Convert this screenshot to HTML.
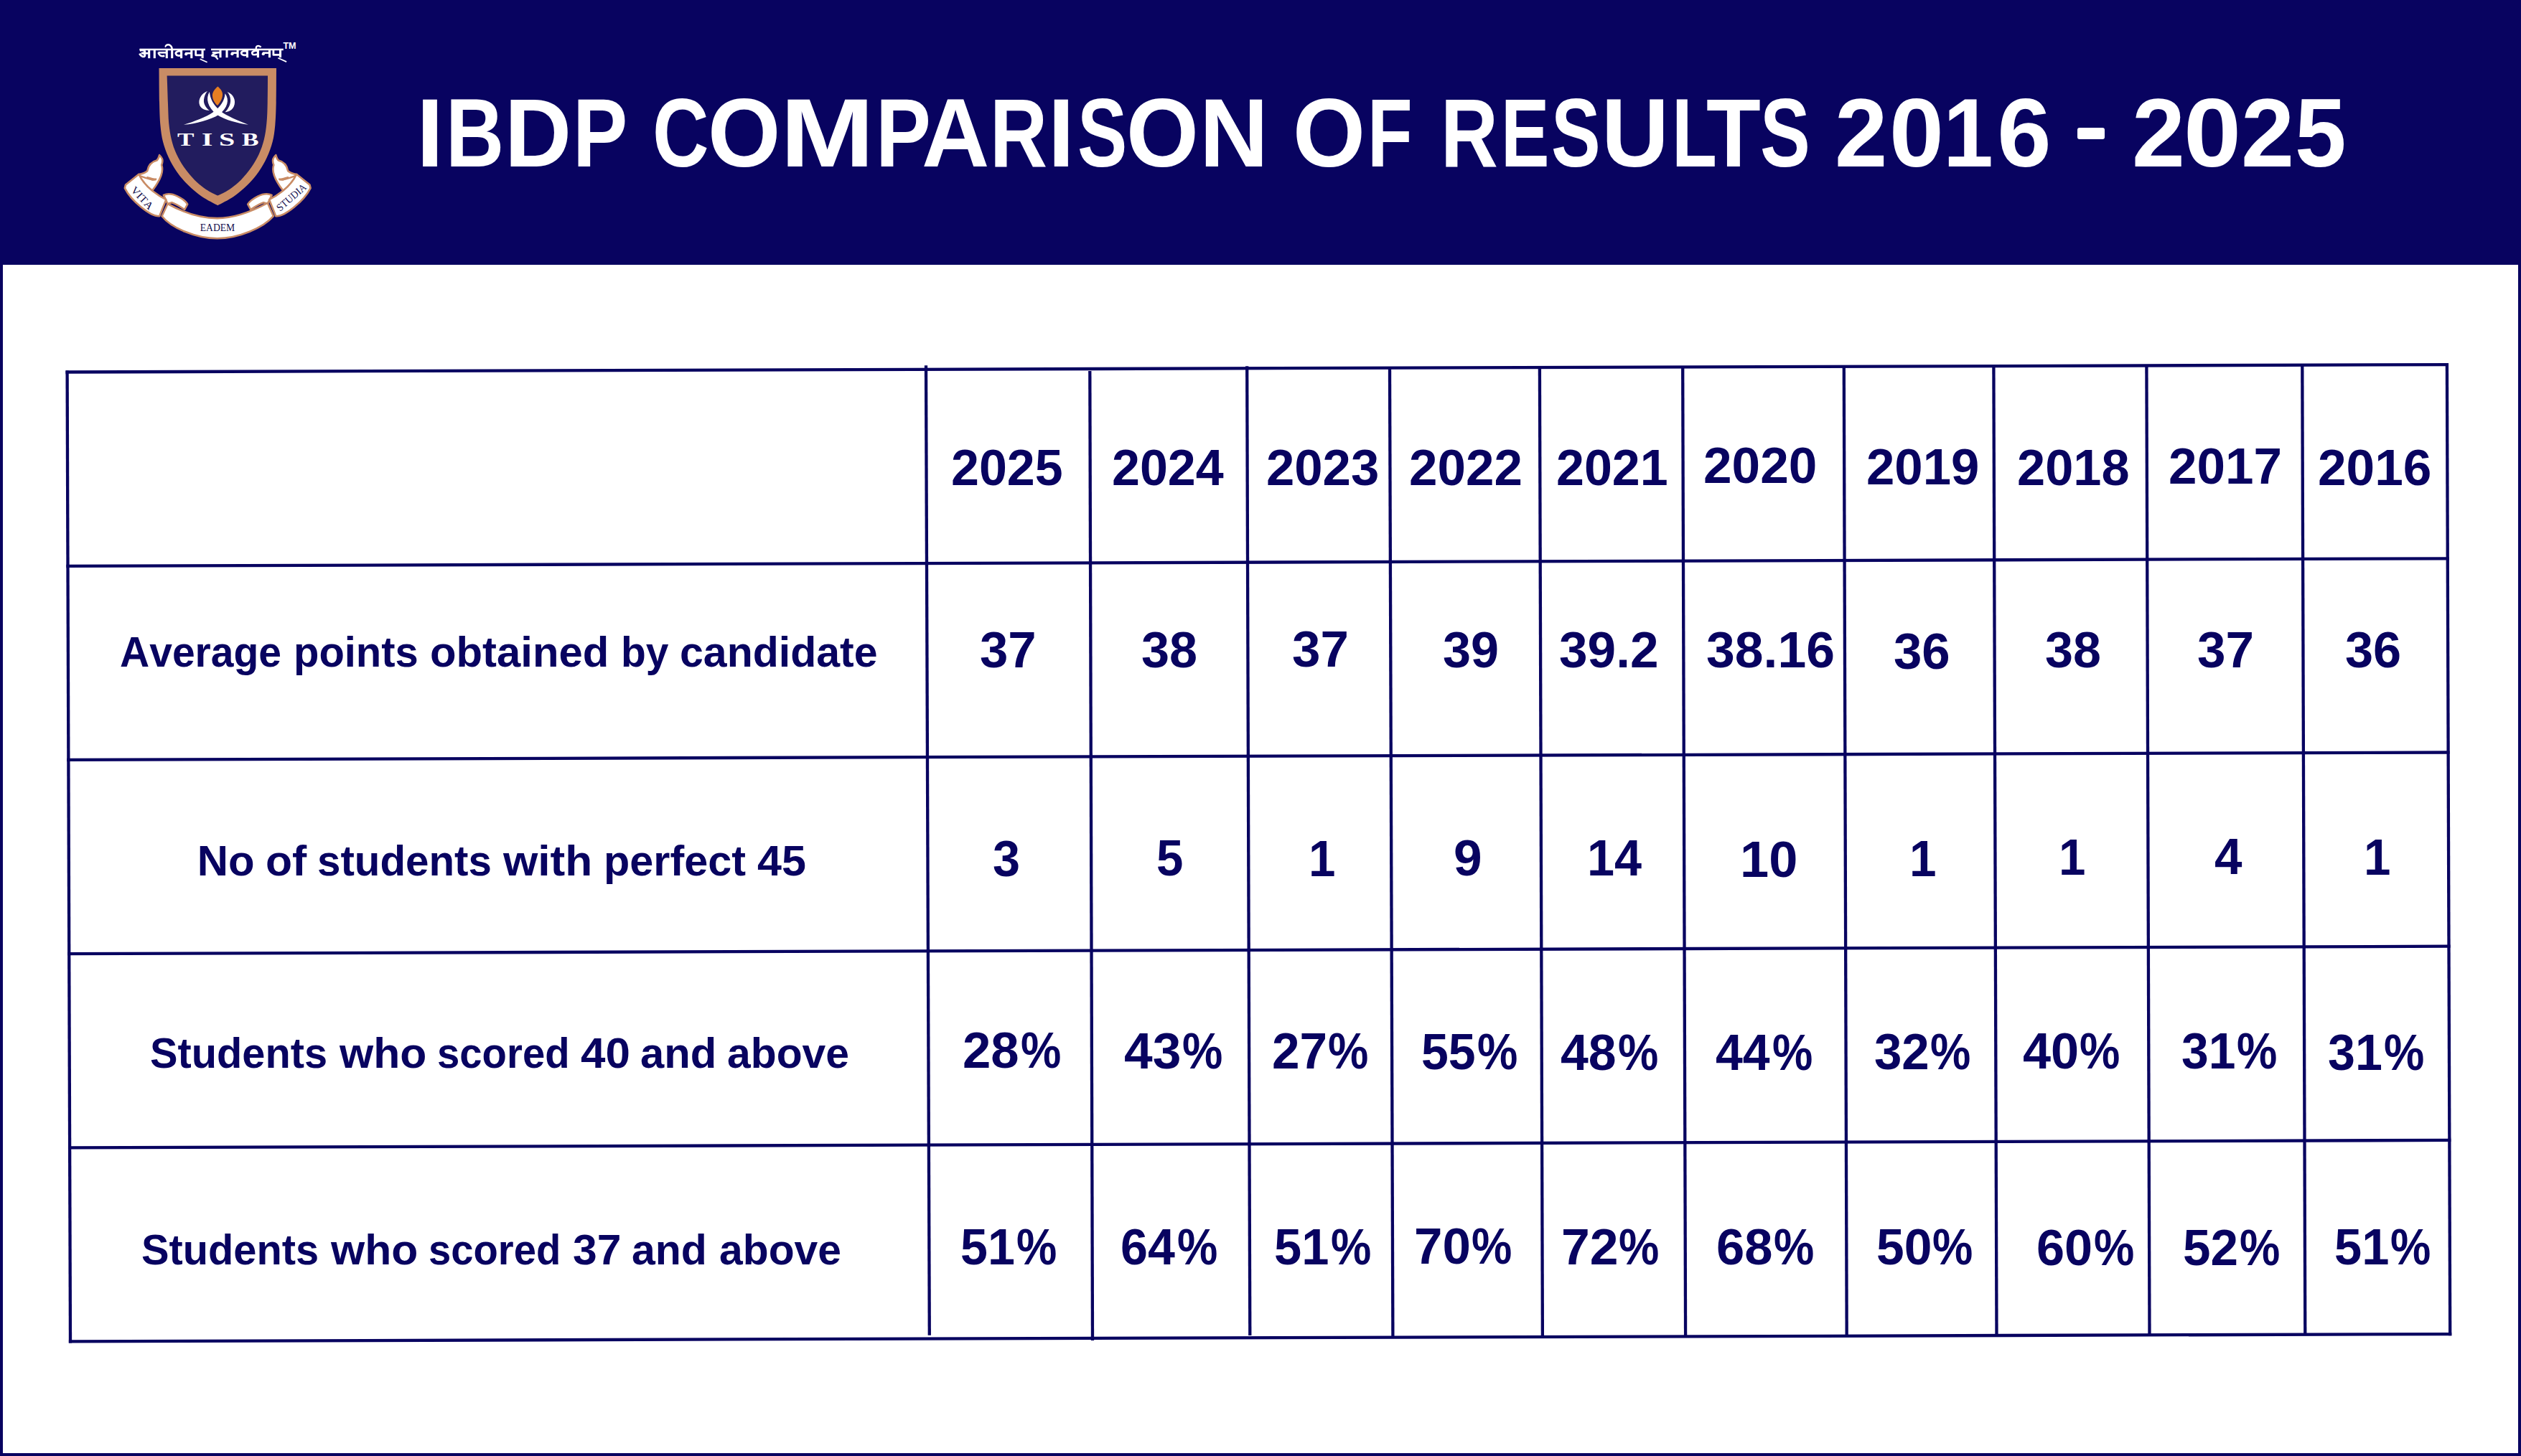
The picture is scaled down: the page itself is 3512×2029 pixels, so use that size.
<!DOCTYPE html>
<html><head><meta charset="utf-8"><title>IBDP Comparison of Results 2016 - 2025</title>
<style>
html,body{margin:0;padding:0;}
body{width:3512px;height:2029px;position:relative;overflow:hidden;background:#fff;font-family:"Liberation Sans",sans-serif;}
#hdr{position:absolute;left:0;top:0;width:3512px;height:369px;background:#080360;}
#frame{position:absolute;left:0;top:0;width:3504px;height:2025px;border:4px solid #080360;border-top:none;}
.t{position:absolute;white-space:nowrap;line-height:1;font-weight:bold;color:#080360;transform-origin:0 0;font-kerning:none;font-family:"Liberation Sans",sans-serif;}
.w{color:#fff;}
.s{font-family:"Liberation Serif",serif;}
.r{font-weight:normal;color:#15104f;}
</style></head><body>
<div id="frame"></div><div id="hdr"></div>
<svg width="3512" height="2029" viewBox="0 0 3512 2029" style="position:absolute;left:0;top:0"><g stroke="#080360" stroke-width="4.3" stroke-linecap="butt"><line x1="91.5" y1="518.5" x2="3411.0" y2="508.1"/><line x1="92.4" y1="788.9" x2="3411.9" y2="778.3"/><line x1="93.3" y1="1058.9" x2="3412.7" y2="1048.5"/><line x1="94.1" y1="1329.1" x2="3413.6" y2="1318.7"/><line x1="95.0" y1="1599.4" x2="3414.4" y2="1588.9"/><line x1="95.9" y1="1869.3" x2="3415.3" y2="1859.1"/><line x1="93.6" y1="516.4" x2="98.0" y2="1871.4"/><line x1="3408.9" y1="506.0" x2="3413.2" y2="1861.2"/><line x1="1290.0" y1="509.3" x2="1294.8" y2="1860.7"/><line x1="1518.3" y1="517.0" x2="1522.0" y2="1867.9"/><line x1="1737.2" y1="510.2" x2="1741.3" y2="1861.0"/><line x1="1936.0" y1="514.0" x2="1940.4" y2="1864.0"/><line x1="2144.9" y1="513.0" x2="2148.9" y2="1863.5"/><line x1="2344.2" y1="512.5" x2="2348.1" y2="1863.0"/><line x1="2568.8" y1="512.0" x2="2572.7" y2="1862.3"/><line x1="2777.4" y1="511.3" x2="2781.5" y2="1861.6"/><line x1="2990.4" y1="510.5" x2="2994.5" y2="1861.0"/><line x1="3207.3" y1="510.0" x2="3211.3" y2="1860.4"/></g><path d="M385.0,95.1 C384.9,103.0 385.0,129.5 384.7,142.7 C384.4,155.9 384.1,165.3 383.3,174.4 C382.4,183.6 381.6,190.1 379.7,197.5 C377.8,205.0 375.1,212.2 371.9,219.2 C368.6,226.1 364.9,232.9 360.3,239.4 C355.8,245.9 350.3,252.3 344.5,258.1 C338.6,263.9 332.3,269.3 325.4,274.0 C318.6,278.7 307.0,284.2 303.3,286.3 C299.7,284.2 288.1,278.7 281.3,274.0 C274.4,269.3 268.0,263.9 262.2,258.1 C256.4,252.3 250.9,245.9 246.4,239.4 C241.8,232.9 238.0,226.1 234.8,219.2 C231.6,212.2 228.9,205.0 227.0,197.5 C225.1,190.1 224.3,183.6 223.4,174.4 C222.6,165.3 222.3,155.9 222.0,142.7 C221.7,129.5 221.6,103.0 221.5,95.1 Z" fill="#C98C65"/><path d="M373.0,105.5 C373.0,111.7 373.0,131.7 372.7,142.7 C372.5,153.7 372.3,162.9 371.4,171.6 C370.6,180.2 369.6,187.4 367.8,194.6 C366.0,201.9 363.7,208.3 360.8,214.8 C357.8,221.3 354.1,227.6 349.9,233.6 C345.7,239.6 340.6,245.9 335.5,250.9 C330.5,256.0 325.0,260.3 319.6,263.9 C314.3,267.5 306.1,271.1 303.3,272.5 C300.6,271.1 292.4,267.5 287.0,263.9 C281.7,260.3 276.2,256.0 271.2,250.9 C266.1,245.9 261.0,239.6 256.7,233.6 C252.5,227.6 248.9,221.3 245.9,214.8 C242.9,208.3 240.6,201.9 238.9,194.6 C237.1,187.4 236.1,180.2 235.2,171.6 C234.4,162.9 234.4,153.7 233.9,142.7 C233.5,131.7 232.9,111.7 232.6,105.5 Z" fill="#221C5E"/><path d="M193.4,243.1 C198.0,242.3 202.6,240.5 205.2,238.2 C206.6,231.1 210.6,225.5 218.4,223.6 C220.7,221.9 221.4,218.4 222.1,216.1 C225.8,219.6 227.9,223.0 225.1,229.9 C228.1,238.0 225.6,248.3 211.8,266.1 C203.7,259.8 196.8,251.8 193.4,243.1 Z" fill="#fff" stroke="#C98C65" stroke-width="2.6" stroke-linejoin="round"/><path d="M413.1,243.1 C408.5,242.3 403.9,240.5 401.2,238.2 C399.8,231.1 395.8,225.5 388.0,223.6 C385.7,221.9 385.0,218.4 384.3,216.1 C380.6,219.6 378.6,223.0 381.3,229.9 C378.3,238.0 380.9,248.3 394.7,266.1 C402.7,259.8 409.6,251.8 413.1,243.1 Z" fill="#fff" stroke="#C98C65" stroke-width="2.6" stroke-linejoin="round"/><path d="M227.9,271.9 C233.6,269.0 240.5,270.2 247.4,273.6 C253.2,276.5 258.9,280.5 261.2,284.6 L257.2,292.0 C252.0,288.6 245.1,284.0 239.4,282.3 L233.6,284.0 Z" fill="#fff" stroke="#C98C65" stroke-width="2.6" stroke-linejoin="round"/><path d="M378.6,271.9 C372.8,269.0 365.9,270.2 359.0,273.6 C353.3,276.5 347.5,280.5 345.2,284.6 L349.2,292.0 C354.4,288.6 361.3,284.0 367.1,282.3 L372.8,284.0 Z" fill="#fff" stroke="#C98C65" stroke-width="2.6" stroke-linejoin="round"/><path d="M194.5,244.9 C201.4,247.4 209.5,250.8 216.6,250.4" fill="none" stroke="#C98C65" stroke-width="2.4" stroke-linecap="round"/><path d="M205.1,246.9 C209.5,248.3 214.1,249.5 217.5,249.5 C214.1,252.0 208.9,250.6 205.1,246.9 Z" fill="#080360" stroke="#C98C65" stroke-width="1.8" stroke-linejoin="round"/><path d="M411.9,244.9 C405.0,247.4 397.0,250.8 389.8,250.4" fill="none" stroke="#C98C65" stroke-width="2.4" stroke-linecap="round"/><path d="M401.3,246.9 C397.0,248.3 392.4,249.5 388.9,249.5 C392.4,252.0 397.5,250.6 401.3,246.9 Z" fill="#080360" stroke="#C98C65" stroke-width="1.8" stroke-linejoin="round"/><path d="M233.6,284.0 C252.0,294.3 277.3,304.1 302.6,304.1 C328.0,304.1 353.3,293.2 372.8,282.8 L380.9,301.2 C367.1,317.3 332.6,332.3 302.6,332.3 C272.7,332.3 238.2,317.3 225.6,301.2 Z" fill="#fff" stroke="#C98C65" stroke-width="2.6" stroke-linejoin="round"/><path d="M175.0,257.5 L193.4,242.8 C199.1,255.2 211.8,267.9 231.3,278.2 L222.1,301.2 C210.6,302.4 183.0,280.5 173.8,262.1 Z" fill="#fff" stroke="#C98C65" stroke-width="2.6" stroke-linejoin="round"/><path d="M431.5,257.5 L413.1,242.8 C407.3,255.2 394.7,267.9 375.1,278.2 L384.3,301.2 C395.8,302.4 423.4,280.5 432.6,262.1 Z" fill="#fff" stroke="#C98C65" stroke-width="2.6" stroke-linejoin="round"/><path d="M303.5,120.5 C307.8,124.4 310.3,128.0 310.0,132.4 C309.6,138.1 306.4,143.2 302.8,147.1 C298.4,142.5 295.9,138.1 295.9,132.4 C296.1,128.0 299.1,124.1 303.5,120.5 Z" fill="#E67E22"/><path d="M291.9,128.0 C286.2,137.4 289.0,148.9 302.0,159.8 C314.3,167.7 332.3,172.0 346.0,173.8 C330.9,167.7 316.5,161.9 307.1,154.7 C297.0,146.1 292.7,137.4 291.9,128.0 Z" fill="#fff"/><path d="M313.6,130.2 C320.1,138.9 317.2,150.4 304.9,159.8 C293.4,167.0 272.5,172.8 255.9,173.8 C271.0,169.1 286.2,163.4 297.0,156.2 C307.1,148.9 312.9,140.3 313.6,130.2 Z" fill="#fff"/><path d="M289.0,127.0 C280.4,130.2 275.3,138.9 278.2,146.8 C280.4,151.8 286.2,154.0 291.9,154.0 C286.9,150.4 283.3,144.6 284.0,138.9 C284.4,134.5 286.2,130.2 289.0,127.0 Z" fill="#fff"/><path d="M316.5,128.0 C325.1,130.9 329.4,140.3 325.8,148.2 C323.7,153.3 318.6,155.8 313.6,156.2 C317.9,151.8 321.5,145.3 321.1,138.9 C320.8,134.5 319.3,130.9 316.5,128.0 Z" fill="#fff"/></svg>
<svg width="3512" height="400" viewBox="0 0 3512 400" style="position:absolute;left:0;top:0" fill="none" stroke="#fff" stroke-linecap="butt" stroke-linejoin="round"><path d="M194.4,69.0 L286.0,69.0" stroke-width="2.6" fill="none"/><path d="M207.7,69.0 L207.7,81.2" stroke-width="3.1" fill="none"/><path d="M215.3,69.0 L215.3,81.2" stroke-width="3.1" fill="none"/><path d="M232.3,69.0 L232.3,81.2" stroke-width="3.1" fill="none"/><path d="M239.7,69.0 L239.7,81.2" stroke-width="3.1" fill="none"/><path d="M252.6,69.0 L252.6,81.2" stroke-width="3.1" fill="none"/><path d="M266.8,69.0 L266.8,81.2" stroke-width="3.1" fill="none"/><path d="M282.1,69.0 L282.1,81.2" stroke-width="3.1" fill="none"/><path d="M194.8,70.3 C198.7,69.4 202.7,70.3 201.8,72.5 C200.9,74.2 198.7,74.2 197.9,74.2 C200.5,74.2 202.7,75.5 201.8,77.7 C200.5,79.9 196.5,79.0 194.4,74.6" stroke-width="2.8" fill="none"/><path d="M201.8,74.2 L207.7,74.2" stroke-width="2.6" fill="none"/><path d="M220.5,73.3 L232.3,73.3" stroke-width="2.6" fill="none"/><path d="M220.5,73.3 C221.4,76.8 224.0,79.4 229.3,77.7" stroke-width="2.6" fill="none"/><path d="M239.7,69.0 C239.7,63.7 235.4,61.1 231.9,62.9 C230.6,63.7 230.6,65.0 231.0,65.5" stroke-width="2.4" fill="none"/><path d="M252.6,71.6 C248.0,70.3 244.1,72.5 245.0,75.1 C245.8,77.7 249.8,78.1 252.6,76.8" stroke-width="2.8" fill="none"/><path d="M258.1,74.2 L266.8,74.2" stroke-width="2.6" fill="none"/><circle cx="259.2" cy="75.5" r="2.1" fill="#fff" stroke="none"/><path d="M272.7,69.4 L272.7,76.8 L282.1,76.8" stroke-width="2.8" fill="none"/><path d="M278.6,82.3 L288.6,86.8" stroke-width="1.8" fill="none"/><path d="M294.1,69.0 L394.8,69.0" stroke-width="2.5" fill="none"/><path d="M307.0,69.0 L307.0,80.2" stroke-width="3.1" fill="none"/><path d="M316.0,69.0 L316.0,80.2" stroke-width="3.1" fill="none"/><path d="M331.1,69.0 L331.1,80.2" stroke-width="3.1" fill="none"/><path d="M344.4,69.0 L344.4,80.2" stroke-width="3.1" fill="none"/><path d="M359.4,69.0 L359.4,80.2" stroke-width="3.1" fill="none"/><path d="M375.5,69.0 L375.5,80.2" stroke-width="3.1" fill="none"/><path d="M390.5,69.0 L390.5,80.2" stroke-width="3.1" fill="none"/><path d="M295.7,73.2 L307.0,73.2" stroke-width="2.6" fill="none"/><path d="M302.7,73.2 C298.4,75.3 295.7,76.4 295.4,77.5 L302.7,78.6" stroke-width="2.6" fill="none"/><path d="M300.0,78.6 L303.7,82.8" stroke-width="2.2" fill="none"/><path d="M322.5,73.7 L331.1,73.7" stroke-width="2.6" fill="none"/><circle cx="323.4" cy="75.2" r="2.1" fill="#fff" stroke="none"/><path d="M344.4,71.6 C339.6,70.0 335.3,72.1 336.4,74.8 C337.5,77.0 341.2,77.5 344.4,76.2" stroke-width="2.8" fill="none"/><path d="M356.8,68.4 C356.2,64.6 358.9,62.0 363.7,65.7" stroke-width="2.2" fill="none"/><path d="M359.4,71.1 C354.6,70.0 350.3,72.1 351.4,74.8 C352.5,77.0 356.2,76.4 359.4,75.3" stroke-width="2.6" fill="none"/><path d="M365.9,73.7 L375.5,73.7" stroke-width="2.6" fill="none"/><circle cx="366.8" cy="75.2" r="2.1" fill="#fff" stroke="none"/><path d="M380.9,69.0 L380.9,76.4 L390.5,76.4" stroke-width="2.8" fill="none"/><path d="M387.3,80.7 L399.1,86.1" stroke-width="1.8" fill="none"/></svg>
<div class="t" style="left:1325.37px;top:617.00px;font-size:70.9px;transform:scaleX(0.9876);">2025</div>
<div class="t" style="left:1548.97px;top:617.00px;font-size:70.9px;transform:scaleX(0.9872);">2024</div>
<div class="t" style="left:1763.75px;top:617.00px;font-size:70.9px;transform:scaleX(0.9967);">2023</div>
<div class="t" style="left:1963.34px;top:617.00px;font-size:70.9px;transform:scaleX(1.0011);">2022</div>
<div class="t" style="left:2167.87px;top:617.00px;font-size:70.9px;transform:scaleX(0.9870);">2021</div>
<div class="t" style="left:2373.33px;top:614.00px;font-size:70.9px;transform:scaleX(1.0036);">2020</div>
<div class="t" style="left:2599.75px;top:616.00px;font-size:70.9px;transform:scaleX(0.9985);">2019</div>
<div class="t" style="left:2809.66px;top:617.00px;font-size:70.9px;transform:scaleX(0.9936);">2018</div>
<div class="t" style="left:3020.74px;top:615.00px;font-size:70.9px;transform:scaleX(1.0023);">2017</div>
<div class="t" style="left:3228.63px;top:617.00px;font-size:70.9px;transform:scaleX(1.0046);">2016</div>
<div class="t" style="left:1364.88px;top:871.00px;font-size:70.9px;transform:scaleX(0.9984);">37</div>
<div class="t" style="left:1590.29px;top:871.00px;font-size:70.9px;transform:scaleX(0.9899);">38</div>
<div class="t" style="left:1799.87px;top:870.00px;font-size:70.9px;transform:scaleX(0.9997);">37</div>
<div class="t" style="left:2009.79px;top:871.00px;font-size:70.9px;transform:scaleX(0.9892);">39</div>
<div class="t" style="left:2171.77px;top:871.00px;font-size:70.9px;transform:scaleX(1.0043);">39.2</div>
<div class="t" style="left:2376.76px;top:871.00px;font-size:70.9px;transform:scaleX(1.0090);">38.16</div>
<div class="t" style="left:2638.18px;top:873.00px;font-size:70.9px;transform:scaleX(0.9977);">36</div>
<div class="t" style="left:2849.19px;top:871.00px;font-size:70.9px;transform:scaleX(0.9886);">38</div>
<div class="t" style="left:3061.07px;top:871.00px;font-size:70.9px;transform:scaleX(1.0024);">37</div>
<div class="t" style="left:3267.39px;top:871.00px;font-size:70.9px;transform:scaleX(0.9910);">36</div>
<div class="t" style="left:1383.03px;top:1162.00px;font-size:70.9px;transform:scaleX(0.9648);">3</div>
<div class="t" style="left:1610.73px;top:1161.00px;font-size:70.9px;transform:scaleX(0.9496);">5</div>
<div class="t" style="left:1822.79px;top:1162.00px;font-size:70.9px;transform:scaleX(0.9500);">1</div>
<div class="t" style="left:2024.73px;top:1161.00px;font-size:70.9px;transform:scaleX(1.0046);">9</div>
<div class="t" style="left:2211.09px;top:1161.00px;font-size:70.9px;transform:scaleX(0.9647);">14</div>
<div class="t" style="left:2423.55px;top:1163.00px;font-size:70.9px;transform:scaleX(1.0183);">10</div>
<div class="t" style="left:2660.35px;top:1162.00px;font-size:70.9px;transform:scaleX(0.9517);">1</div>
<div class="t" style="left:2868.49px;top:1160.00px;font-size:70.9px;transform:scaleX(0.9500);">1</div>
<div class="t" style="left:3084.85px;top:1159.00px;font-size:70.9px;transform:scaleX(0.9769);">4</div>
<div class="t" style="left:3292.59px;top:1160.00px;font-size:70.9px;transform:scaleX(0.9500);">1</div>
<div class="t" style="left:1341.35px;top:1429.00px;font-size:70.9px;transform:scaleX(0.9970);">28</div>
<div class="t" style="left:1421.72px;top:1429.00px;font-size:70.9px;transform:scaleX(0.8938);">%</div>
<div class="t" style="left:1565.82px;top:1430.00px;font-size:70.9px;transform:scaleX(1.0063);">43</div>
<div class="t" style="left:1646.52px;top:1430.00px;font-size:70.9px;transform:scaleX(0.8938);">%</div>
<div class="t" style="left:1772.10px;top:1430.00px;font-size:70.9px;transform:scaleX(0.9770);">27</div>
<div class="t" style="left:1850.02px;top:1430.00px;font-size:70.9px;transform:scaleX(0.8938);">%</div>
<div class="t" style="left:1980.41px;top:1431.00px;font-size:70.9px;transform:scaleX(0.9597);">55</div>
<div class="t" style="left:2058.12px;top:1431.00px;font-size:70.9px;transform:scaleX(0.8938);">%</div>
<div class="t" style="left:2174.14px;top:1432.00px;font-size:70.9px;transform:scaleX(0.9840);">48</div>
<div class="t" style="left:2253.52px;top:1432.00px;font-size:70.9px;transform:scaleX(0.8938);">%</div>
<div class="t" style="left:2390.27px;top:1432.00px;font-size:70.9px;transform:scaleX(0.9586);">44</div>
<div class="t" style="left:2469.42px;top:1432.00px;font-size:70.9px;transform:scaleX(0.8938);">%</div>
<div class="t" style="left:2611.12px;top:1431.00px;font-size:70.9px;transform:scaleX(0.9732);">32</div>
<div class="t" style="left:2689.02px;top:1431.00px;font-size:70.9px;transform:scaleX(0.8938);">%</div>
<div class="t" style="left:2818.24px;top:1430.00px;font-size:70.9px;transform:scaleX(0.9909);">40</div>
<div class="t" style="left:2897.42px;top:1430.00px;font-size:70.9px;transform:scaleX(0.8938);">%</div>
<div class="t" style="left:3038.64px;top:1430.00px;font-size:70.9px;transform:scaleX(0.9567);">31</div>
<div class="t" style="left:3116.12px;top:1430.00px;font-size:70.9px;transform:scaleX(0.8938);">%</div>
<div class="t" style="left:3243.43px;top:1432.00px;font-size:70.9px;transform:scaleX(0.9620);">31</div>
<div class="t" style="left:3321.32px;top:1432.00px;font-size:70.9px;transform:scaleX(0.8938);">%</div>
<div class="t" style="left:1338.40px;top:1703.00px;font-size:70.9px;transform:scaleX(0.9624);">51</div>
<div class="t" style="left:1416.32px;top:1703.00px;font-size:70.9px;transform:scaleX(0.8938);">%</div>
<div class="t" style="left:1561.01px;top:1703.00px;font-size:70.9px;transform:scaleX(0.9607);">64</div>
<div class="t" style="left:1640.32px;top:1703.00px;font-size:70.9px;transform:scaleX(0.8938);">%</div>
<div class="t" style="left:1775.49px;top:1703.00px;font-size:70.9px;transform:scaleX(0.9691);">51</div>
<div class="t" style="left:1853.92px;top:1703.00px;font-size:70.9px;transform:scaleX(0.8938);">%</div>
<div class="t" style="left:1970.45px;top:1702.00px;font-size:70.9px;transform:scaleX(0.9999);">70</div>
<div class="t" style="left:2050.32px;top:1702.00px;font-size:70.9px;transform:scaleX(0.8938);">%</div>
<div class="t" style="left:2174.73px;top:1703.00px;font-size:70.9px;transform:scaleX(1.0085);">72</div>
<div class="t" style="left:2255.32px;top:1703.00px;font-size:70.9px;transform:scaleX(0.8938);">%</div>
<div class="t" style="left:2391.22px;top:1703.00px;font-size:70.9px;transform:scaleX(0.9948);">68</div>
<div class="t" style="left:2471.42px;top:1703.00px;font-size:70.9px;transform:scaleX(0.8938);">%</div>
<div class="t" style="left:2613.96px;top:1703.00px;font-size:70.9px;transform:scaleX(0.9814);">50</div>
<div class="t" style="left:2692.42px;top:1703.00px;font-size:70.9px;transform:scaleX(0.8938);">%</div>
<div class="t" style="left:2837.33px;top:1704.00px;font-size:70.9px;transform:scaleX(0.9910);">60</div>
<div class="t" style="left:2916.52px;top:1704.00px;font-size:70.9px;transform:scaleX(0.8938);">%</div>
<div class="t" style="left:3041.37px;top:1704.00px;font-size:70.9px;transform:scaleX(0.9764);">52</div>
<div class="t" style="left:3119.52px;top:1704.00px;font-size:70.9px;transform:scaleX(0.8938);">%</div>
<div class="t" style="left:3251.89px;top:1703.00px;font-size:70.9px;transform:scaleX(0.9691);">51</div>
<div class="t" style="left:3330.32px;top:1703.00px;font-size:70.9px;transform:scaleX(0.8938);">%</div>
<div class="t" style="left:166.98px;top:879.00px;font-size:59.9px;transform:scaleX(0.9520);">Average</div>
<div class="t" style="left:409.48px;top:879.00px;font-size:59.9px;transform:scaleX(0.9673);">points</div>
<div class="t" style="left:599.26px;top:879.00px;font-size:59.9px;transform:scaleX(0.9992);">obtained</div>
<div class="t" style="left:864.95px;top:879.00px;font-size:59.9px;transform:scaleX(0.9507);">by</div>
<div class="t" style="left:946.79px;top:879.00px;font-size:59.9px;transform:scaleX(0.9857);">candidate</div>
<div class="t" style="left:274.69px;top:1170.00px;font-size:59.9px;transform:scaleX(1.0000);">No</div>
<div class="t" style="left:369.63px;top:1170.00px;font-size:59.9px;transform:scaleX(1.0126);">of</div>
<div class="t" style="left:441.65px;top:1170.00px;font-size:59.9px;transform:scaleX(0.9733);">students</div>
<div class="t" style="left:701.08px;top:1170.00px;font-size:59.9px;transform:scaleX(1.0376);">with</div>
<div class="t" style="left:840.79px;top:1170.00px;font-size:59.9px;transform:scaleX(0.9915);">perfect</div>
<div class="t" style="left:1055.18px;top:1170.00px;font-size:59.9px;transform:scaleX(1.0195);">45</div>
<div class="t" style="left:209.24px;top:1438.00px;font-size:59.9px;transform:scaleX(0.9641);">Students</div>
<div class="t" style="left:472.88px;top:1438.00px;font-size:59.9px;transform:scaleX(1.0127);">who</div>
<div class="t" style="left:608.62px;top:1438.00px;font-size:59.9px;transform:scaleX(0.9397);">scored</div>
<div class="t" style="left:809.26px;top:1438.00px;font-size:59.9px;transform:scaleX(1.0338);">40</div>
<div class="t" style="left:891.95px;top:1438.00px;font-size:59.9px;transform:scaleX(0.9981);">and</div>
<div class="t" style="left:1013.18px;top:1438.00px;font-size:59.9px;transform:scaleX(0.9822);">above</div>
<div class="t" style="left:196.94px;top:1712.00px;font-size:59.9px;transform:scaleX(0.9645);">Students</div>
<div class="t" style="left:460.78px;top:1712.00px;font-size:59.9px;transform:scaleX(1.0127);">who</div>
<div class="t" style="left:597.02px;top:1712.00px;font-size:59.9px;transform:scaleX(0.9387);">scored</div>
<div class="t" style="left:797.91px;top:1712.00px;font-size:59.9px;transform:scaleX(1.0125);">37</div>
<div class="t" style="left:880.37px;top:1712.00px;font-size:59.9px;transform:scaleX(0.9852);">and</div>
<div class="t" style="left:1001.58px;top:1712.00px;font-size:59.9px;transform:scaleX(0.9822);">above</div>
<div class="t w" style="left:579.85px;top:118.00px;font-size:135.5px;transform:scaleX(1.0093);">I</div>
<div class="t w" style="left:621.48px;top:118.00px;font-size:135.5px;transform:scaleX(0.8301);">B</div>
<div class="t w" style="left:703.28px;top:118.00px;font-size:135.5px;transform:scaleX(0.9507);">D</div>
<div class="t w" style="left:798.45px;top:118.00px;font-size:135.5px;transform:scaleX(0.8437);">P</div>
<div class="t w" style="left:908.54px;top:118.00px;font-size:135.5px;transform:scaleX(0.8026);">C</div>
<div class="t w" style="left:985.85px;top:118.00px;font-size:135.5px;transform:scaleX(0.9623);">O</div>
<div class="t w" style="left:1086.59px;top:118.00px;font-size:135.5px;transform:scaleX(1.1600);">M</div>
<div class="t w" style="left:1219.59px;top:118.00px;font-size:135.5px;transform:scaleX(0.8503);">P</div>
<div class="t w" style="left:1284.25px;top:118.00px;font-size:135.5px;transform:scaleX(0.9636);">A</div>
<div class="t w" style="left:1378.58px;top:118.00px;font-size:135.5px;transform:scaleX(0.8185);">R</div>
<div class="t w" style="left:1460.28px;top:118.00px;font-size:135.5px;transform:scaleX(0.9735);">I</div>
<div class="t w" style="left:1500.51px;top:118.00px;font-size:135.5px;transform:scaleX(0.7662);">S</div>
<div class="t w" style="left:1569.28px;top:118.00px;font-size:135.5px;transform:scaleX(0.9570);">O</div>
<div class="t w" style="left:1671.00px;top:118.00px;font-size:135.5px;transform:scaleX(0.9817);">N</div>
<div class="t w" style="left:1800.98px;top:118.00px;font-size:135.5px;transform:scaleX(0.9581);">O</div>
<div class="t w" style="left:1905.34px;top:118.00px;font-size:135.5px;transform:scaleX(0.7564);">F</div>
<div class="t w" style="left:2006.70px;top:118.00px;font-size:135.5px;transform:scaleX(0.8162);">R</div>
<div class="t w" style="left:2090.94px;top:118.00px;font-size:135.5px;transform:scaleX(0.7459);">E</div>
<div class="t w" style="left:2160.73px;top:118.00px;font-size:135.5px;transform:scaleX(0.7600);">S</div>
<div class="t w" style="left:2230.79px;top:118.00px;font-size:135.5px;transform:scaleX(0.9602);">U</div>
<div class="t w" style="left:2328.72px;top:118.00px;font-size:135.5px;transform:scaleX(0.7593);">L</div>
<div class="t w" style="left:2376.91px;top:118.00px;font-size:135.5px;transform:scaleX(0.9161);">T</div>
<div class="t w" style="left:2452.19px;top:118.00px;font-size:135.5px;transform:scaleX(0.7723);">S</div>
<div class="t w" style="left:2556.43px;top:118.00px;font-size:135.5px;transform:scaleX(0.9734);">2</div>
<div class="t w" style="left:2631.90px;top:118.00px;font-size:135.5px;transform:scaleX(1.0071);">0</div>
<div class="t w" style="left:2707.49px;top:118.00px;font-size:135.5px;transform:scaleX(0.9262);">1</div>
<div class="t w" style="left:2782.24px;top:118.00px;font-size:135.5px;transform:scaleX(1.0000);">6</div>
<div class="t w" style="left:2970.49px;top:118.00px;font-size:135.5px;transform:scaleX(0.9811);">2</div>
<div class="t w" style="left:3041.80px;top:118.00px;font-size:135.5px;transform:scaleX(1.0630);">0</div>
<div class="t w" style="left:3121.58px;top:118.00px;font-size:135.5px;transform:scaleX(0.9841);">2</div>
<div class="t w" style="left:3197.04px;top:118.00px;font-size:135.5px;transform:scaleX(0.9493);">5</div>
<div style="position:absolute;left:2894px;top:177.9px;width:38px;height:15.7px;background:#fff;border-radius:3px"></div>
<div class="t w s" style="left:247.39px;top:182.00px;font-size:25.0px;transform:scaleX(1.4058);">T</div>
<div class="t w s" style="left:280.51px;top:182.00px;font-size:25.0px;transform:scaleX(1.5691);">I</div>
<div class="t w s" style="left:304.59px;top:182.00px;font-size:25.0px;transform:scaleX(1.5978);">S</div>
<div class="t w s" style="left:337.15px;top:182.00px;font-size:25.0px;transform:scaleX(1.4135);">B</div>
<div class="t s r" style="left:303.0px;top:317.1px;font-size:15px;transform:translate(-50%,-50%) rotate(0deg) scaleX(0.909);transform-origin:50% 50%">EADEM</div>
<div class="t s r" style="left:197.7px;top:276.2px;font-size:14.5px;transform:translate(-50%,-50%) rotate(47deg) scaleX(1.106);transform-origin:50% 50%">VITA</div>
<div class="t s r" style="left:406.2px;top:275.3px;font-size:14.5px;transform:translate(-50%,-50%) rotate(-41deg) scaleX(0.941);transform-origin:50% 50%">STUDIA</div>
<div class="t w" style="left:394.6px;top:57.5px;font-size:12.6px;letter-spacing:-0.3px">TM</div>
</body></html>
